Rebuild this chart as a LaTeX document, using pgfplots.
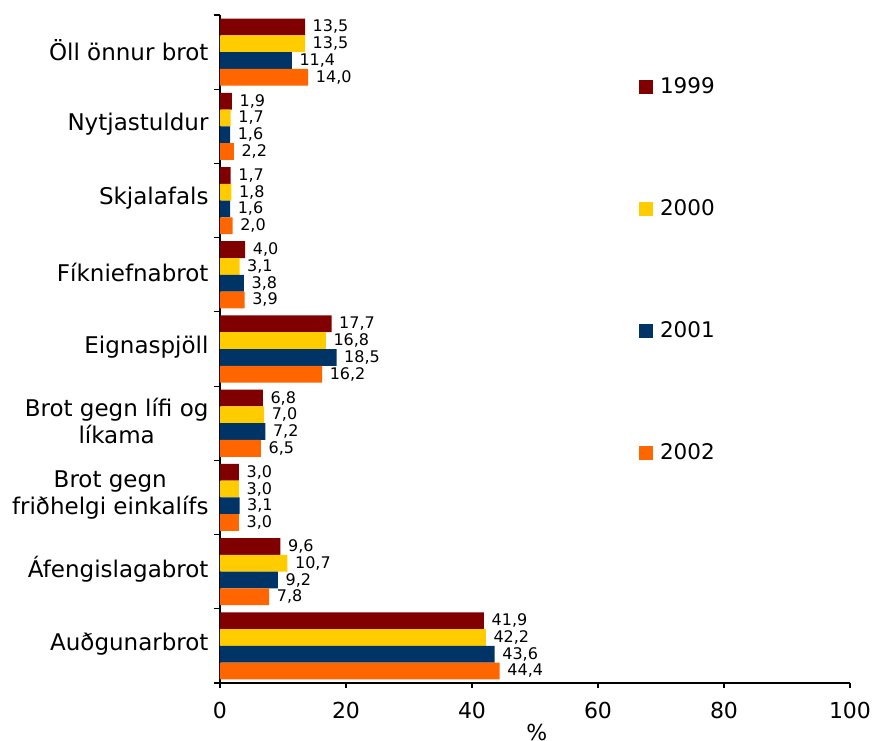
\documentclass[border=0pt]{standalone}
\usepackage{pgfplots}
\pgfplotsset{compat=1.18}
\usepackage{pgfplotstable}
\usepackage{fontspec}
\setmainfont{DejaVu Sans}
\definecolor{c1}{HTML}{800000}
\definecolor{c2}{HTML}{FFCC00}
\definecolor{c3}{HTML}{003366}
\definecolor{c4}{HTML}{FF6600}
\pgfplotstableread{
y a b c d
8 13.5 13.5 11.4 14.0
7 1.9 1.7 1.6 2.2
6 1.7 1.8 1.6 2.0
5 4.0 3.1 3.8 3.9
4 17.7 16.8 18.5 16.2
3 6.8 7.0 7.2 6.5
2 3.0 3.0 3.1 3.0
1 9.6 10.7 9.2 7.8
0 41.9 42.2 43.6 44.4
}\data
\begin{document}
\begin{tikzpicture}
\useasboundingbox (-220pt,-57pt) rectangle (656pt,683pt);
\begin{axis}[
  scale only axis, width=630pt, height=668pt,
  xmin=0, xmax=100, ymin=-0.5, ymax=8.5,
  xbar, bar width=0.226,
  axis x line*=bottom, axis y line*=left,
  axis line style={line width=1.2pt, black},
  /pgf/number format/assume math mode=true,
  xtick={0,20,...,100},
  ytick={0,...,8},
  yticklabels={Auðgunarbrot, Áfengislagabrot, {Brot gegn\\friðhelgi einkalífs}, {Brot gegn lífi og\\líkama}, Eignaspjöll, Fíkniefnabrot, Skjalafals, Nytjastuldur, Öll önnur brot},
  minor ytick={-0.5,0.5,...,8.5},
  every major y tick/.append style={draw=none},
  minor tick length=6pt, major tick length=5pt,
  tick align=outside,
  tick style={line width=1.2pt, black},
  xticklabel style={yshift=-11pt, font=\fontsize{22}{26}\selectfont},
  yticklabel style={align=center, xshift=-3pt, yshift=2pt, font=\fontsize{23}{27}\selectfont},
  xlabel={\%},
  xlabel style={at={(axis description cs:0.503,0)}, anchor=center, yshift=-49pt, font=\fontsize{22}{26}\selectfont},
  point meta=x,
  nodes near coords={\pgfmathprintnumber[fixed,fixed zerofill,precision=1,use comma]{\pgfplotspointmeta}},
  every node near coord/.append style={font=\fontsize{16}{18}\selectfont, black, inner xsep=7.5pt, inner ysep=2pt},
  legend style={draw=none, fill=none, at={(axis cs:66,5.07)}, anchor=west, row sep=100.5pt, font=\fontsize{21.5}{25}\selectfont,
    /tikz/every odd column/.append style={column sep=5pt}},
  legend cell align=left,
  legend image code/.code={\fill[#1] (0pt,-7pt) rectangle (14pt,7pt);},
]
\addplot[draw=none, fill=c1, bar shift=0.339] table[x=a,y=y]{\data};
\addplot[draw=none, fill=c2, bar shift=0.113] table[x=b,y=y]{\data};
\addplot[draw=none, fill=c3, bar shift=-0.113] table[x=c,y=y]{\data};
\addplot[draw=none, fill=c4, bar shift=-0.339] table[x=d,y=y]{\data};
\legend{1999,2000,2001,2002}
\end{axis}
\end{tikzpicture}
\end{document}
